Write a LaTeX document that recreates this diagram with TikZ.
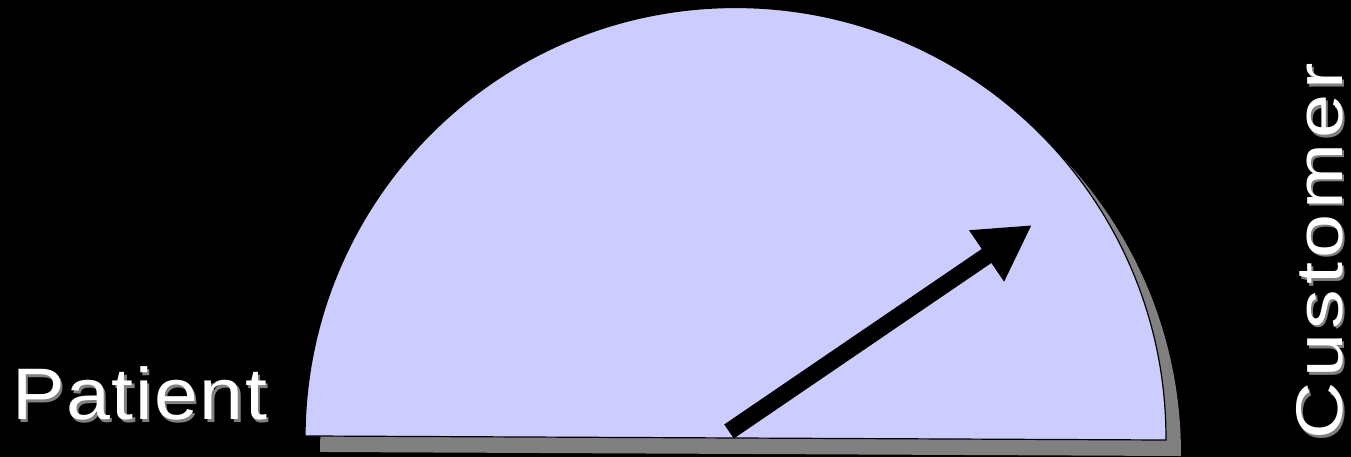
\documentclass[tikz,border=0pt]{standalone}
\usepackage{fontspec}
\usepackage{graphicx}
\setmainfont{Liberation Sans}
\newfontfamily\lblfont[LetterSpace=2]{Liberation Sans}
\newfontfamily\custfont[LetterSpace=6]{Liberation Sans}
\usetikzlibrary{arrows.meta}
\definecolor{lav}{HTML}{CCCCFF}
\definecolor{shadowgray}{HTML}{808080}
\begin{document}
\begin{tikzpicture}[x=1pt,y=1pt,
  halfdisc/.style={fill=lav, draw=black, line width=1.2pt},
  halfshadow/.style={fill=shadowgray},
  pointer/.style={line width=17pt, -{Triangle[length=55pt,width=58pt]}},
  patlbl/.style={inner sep=0pt, font=\lblfont\fontsize{73}{80}\selectfont},
  custlbl/.style={inner sep=0pt, rotate=90, font=\custfont\fontsize{66}{72}\selectfont}]
\fill[black] (0,0) rectangle (1351,457);
\useasboundingbox (0,0) rectangle (1351,457);
% shadow of the half disc
\fill[halfshadow] (320,5.03) arc[start angle=179.73, end angle=-0.27, radius=430.5] -- cycle;
% half disc
\draw[halfdisc] (305,21.03) arc[start angle=179.73, end angle=-0.27, radius=430.5] -- cycle;
% arrow
\coordinate (tail) at (729,25.5);
\coordinate (tip) at (1032,232);
\draw[pointer] (tail) -- (tip);
% labels
\node[patlbl, anchor=base west, text=shadowgray] (patientshadow) at (14.5,34.5) {\scalebox{1.08}[1]{Patient}};
\node[patlbl, anchor=base west, text=white] (patient) at (12,37) {\scalebox{1.08}[1]{Patient}};
\node[custlbl, anchor=base west, text=shadowgray] (customershadow) at (1344.5,14.5) {\scalebox{1.2}[1]{Customer}};
\node[custlbl, anchor=base west, text=white] (customer) at (1342,17) {\scalebox{1.2}[1]{Customer}};
\end{tikzpicture}
\end{document}
